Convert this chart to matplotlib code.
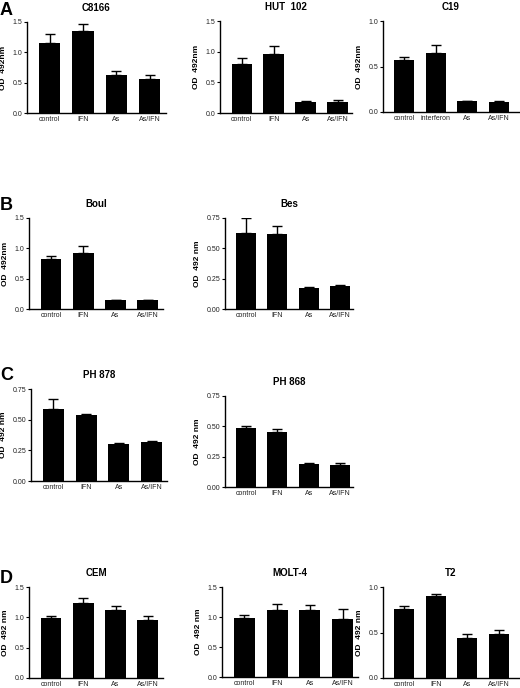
import numpy as np
import matplotlib
matplotlib.use("Agg")
import matplotlib.pyplot as plt

plt.rcParams['font.family'] = ['Liberation Sans', 'DejaVu Sans']

# --- data ---------------------------------------------------------------

groups     = ["control", "IFN", "As", "As/IFN"]
groups_c19 = ["control", "interferon", "As", "As/IFN"]

c8166_mean = [1.16, 1.35, 0.63, 0.56]
c8166_err  = [0.15, 0.12, 0.07, 0.06]

hut102_mean = [0.80, 0.97, 0.18, 0.18]
hut102_err  = [0.09, 0.12, 0.02, 0.03]

c19_mean = [0.57, 0.65, 0.12, 0.115]
c19_err  = [0.03, 0.09, 0.005, 0.01]

boul_mean = [0.83, 0.93, 0.15, 0.15]
boul_err  = [0.05, 0.11, 0.0, 0.0]

bes_mean = [0.63, 0.62, 0.17, 0.19]
bes_err  = [0.12, 0.06, 0.01, 0.01]

ph878_mean = [0.59, 0.54, 0.30, 0.32]
ph878_err  = [0.08, 0.005, 0.01, 0.005]

ph868_mean = [0.49, 0.45, 0.19, 0.18]
ph868_err  = [0.01, 0.03, 0.01, 0.015]

cem_mean = [0.99, 1.23, 1.12, 0.95]
cem_err  = [0.03, 0.09, 0.07, 0.07]

molt4_mean = [0.98, 1.12, 1.12, 0.96]
molt4_err  = [0.06, 0.10, 0.08, 0.18]

t2_mean = [0.76, 0.90, 0.44, 0.48]
t2_err  = [0.03, 0.02, 0.04, 0.05]

ticks_15  = [0.0, 0.5, 1.0, 1.5]
ticks_10  = [0.0, 0.5, 1.0]
ticks_075 = [0.0, 0.25, 0.50, 0.75]

# --- layout in pixels: left, right, top, bottom ------------------------

W, H = 520, 688

panels = [
  # title, labels, mean, err, ticks, ylabel, (l, r, t, b), xlim right
  ("C8166",   groups,     c8166_mean,  c8166_err,  ticks_15,  "OD  492nm",  (27, 166, 22, 113), 3.49),
  ("HUT  102", groups,    hut102_mean, hut102_err, ticks_15,  "OD  492nm",  (220, 352, 21, 113), 3.45),
  ("C19",     groups_c19, c19_mean,    c19_err,    ticks_10,  "OD  492nm",  (383, 519, 21, 112), 3.65),
  ("Boul",    groups,     boul_mean,   boul_err,   ticks_15,  "OD  492nm",  (29, 163, 218, 309), 3.47),
  ("Bes",     groups,     bes_mean,    bes_err,    ticks_075, "OD  492 nm", (225, 353, 218, 309), 3.42),
  ("PH 878",  groups,     ph878_mean,  ph878_err,  ticks_075, "OD  492 nm", (31, 167, 389, 481), 3.47),
  ("PH 868",  groups,     ph868_mean,  ph868_err,  ticks_075, "OD  492 nm", (225, 353, 396, 487), 3.42),
  ("CEM",     groups,     cem_mean,    cem_err,    ticks_15,  "OD  492 nm", (29, 163, 587, 678), 3.47),
  ("MOLT-4",  groups,     molt4_mean,  molt4_err,  ticks_15,  "OD  492 nm", (222, 358, 587, 677), 3.47),
  ("T2",      groups,     t2_mean,     t2_err,     ticks_10,  "OD  492 nm", (383, 519, 587, 678), 3.65),
]

letters = [("A", 2), ("B", 197), ("C", 367), ("D", 570)]

fig = plt.figure(figsize=(W / 100, H / 100), dpi=100)

for title, labels, mean, err, ticks, ylab, (l, r, t, b), xr in panels:
  ax = fig.add_axes([l / W, 1 - b / H, (r - l) / W, (b - t) / H])
  x = np.arange(len(labels))
  ax.bar(x, mean, width=0.64, color="black", zorder=2)
  ax.errorbar(x, mean, yerr=[np.zeros(len(err)), err], fmt="none",
              ecolor="black", elinewidth=1.0, capsize=3.8, capthick=1.0, zorder=3)
  ax.set_xlim(-0.68, xr)
  ax.set_ylim(ticks[0], ticks[-1])
  ax.set_yticks(ticks)
  if ticks is ticks_075:
    ax.set_yticklabels(["%.2f" % v for v in ticks])
  else:
    ax.set_yticklabels(["%.1f" % v for v in ticks])
  ax.set_xticks(x)
  ax.set_xticklabels(labels)
  ax.tick_params(axis="x", length=0, pad=2.2, labelsize=5, colors="#222222")
  ax.tick_params(axis="y", length=2, width=0.8, pad=1.5, labelsize=5, colors="#222222")
  ax.tick_params(axis="both", color="black")
  for s in ["top", "right"]:
    ax.spines[s].set_visible(False)
  for s in ["left", "bottom"]:
    ax.spines[s].set_linewidth(1.0)
  ax.set_ylabel(ylab, fontsize=6, fontweight="bold", labelpad=4)
  ax.set_title(title, fontsize=7, fontweight="bold", pad=8)

for letter, y in letters:
  fig.text(0.0, 1 - y / H, letter, fontsize=13, fontweight="bold",
           ha="left", va="top")

fig.savefig("out.png", dpi=100)
